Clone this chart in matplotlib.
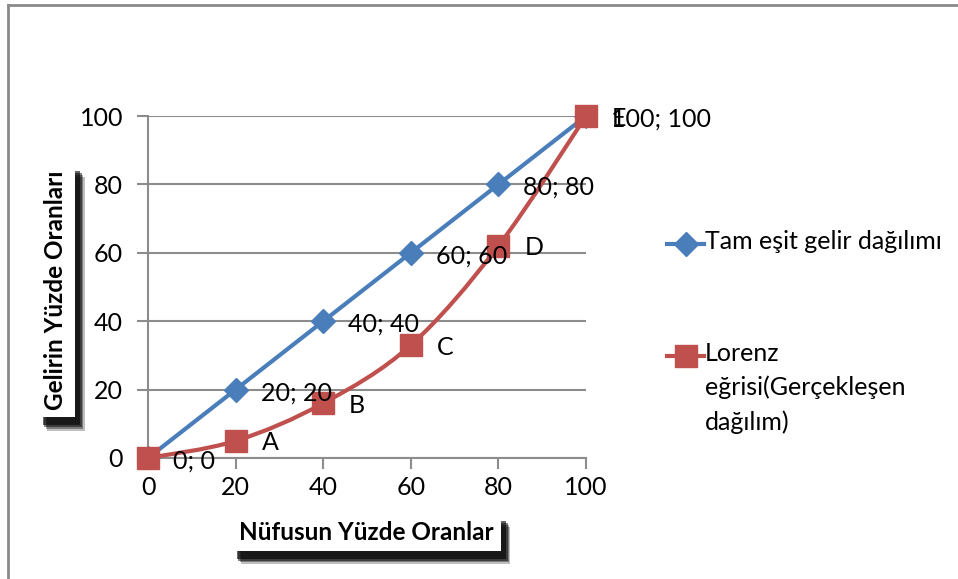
import matplotlib.pyplot as plt
import numpy as np
from matplotlib.lines import Line2D
from matplotlib.path import Path
from matplotlib.patches import PathPatch
import matplotlib.patheffects as pe

plt.rcParams['font.family'] = ['Lato', 'DejaVu Sans']

x_pop = [0, 20, 40, 60, 80, 100]
y_equal = [0, 20, 40, 60, 80, 100]
y_lorenz = [0, 5, 16, 33, 62, 100]
lorenz_letters = ['', 'A', 'B', 'C', 'D', 'E']
x_ticks = [0, 20, 40, 60, 80, 100]
y_ticks = [0, 20, 40, 60, 80, 100]

blue = '#4A7EBB'
red = '#C0504D'
grid_gray = '#8C8C8C'
fs = 18

fig = plt.figure(figsize=(9.58, 5.79), dpi=100)
ax = fig.add_axes([0.1545, 0.209, 0.4572, 0.5906])

# outer chart frame (top and left edges visible)
fig.add_artist(Line2D([8 / 958, 1], [1 - 5 / 579, 1 - 5 / 579], transform=fig.transFigure,
                      color='#8A8A8A', lw=2))
fig.add_artist(Line2D([8 / 958, 8 / 958], [0, 1 - 5 / 579], transform=fig.transFigure,
                      color='#8A8A8A', lw=2))

ax.set_xlim(0, 100)
ax.set_ylim(0, 100)
ax.set_xticks(x_ticks)
ax.set_yticks(y_ticks)
ax.tick_params(axis='both', direction='out', length=8, width=1.5, color=grid_gray,
               labelsize=fs)
ax.tick_params(axis='x', pad=5)
ax.tick_params(axis='y', pad=10)
for s in ['top', 'right']:
    ax.spines[s].set_visible(False)
for s in ['left', 'bottom']:
    ax.spines[s].set_color(grid_gray)
    ax.spines[s].set_linewidth(1.5)
ax.yaxis.grid(True, color=grid_gray, lw=1.5)
ax.set_axisbelow(True)

# equal distribution line
ax.plot(x_pop, y_equal, color=blue, lw=3, marker='D', markersize=12,
        markerfacecolor=blue, markeredgecolor=blue, zorder=3)

# smoothed Lorenz curve (Catmull-Rom style bezier like spreadsheet smoothing)
px = np.array(x_pop, dtype=float)
py = np.array(y_lorenz, dtype=float)
verts = [(px[0], py[0])]
codes = [Path.MOVETO]
n = len(px)
for i in range(n - 1):
    p0 = (px[max(i - 1, 0)], py[max(i - 1, 0)])
    p1 = (px[i], py[i])
    p2 = (px[i + 1], py[i + 1])
    p3 = (px[min(i + 2, n - 1)], py[min(i + 2, n - 1)])
    c1 = (p1[0] + (p2[0] - p0[0]) / 6, p1[1] + (p2[1] - p0[1]) / 6)
    c2 = (p2[0] - (p3[0] - p1[0]) / 6, p2[1] - (p3[1] - p1[1]) / 6)
    verts += [c1, c2, p2]
    codes += [Path.CURVE4] * 3
ax.add_patch(PathPatch(Path(verts, codes), facecolor='none', edgecolor=red, lw=3,
                       zorder=4, clip_on=False))
ax.plot(x_pop, y_lorenz, ls='none', marker='s', markersize=15.5,
        markerfacecolor=red, markeredgecolor=red, zorder=5, clip_on=False)

for xv, yv in zip(x_pop, y_equal):
    ax.annotate(f'{xv}; {yv}', (xv, yv), xytext=(25, -3), textcoords='offset pixels',
                ha='left', va='center', fontsize=fs, zorder=6)
for xv, yv, lab in zip(x_pop, y_lorenz, lorenz_letters):
    if lab:
        ax.annotate(lab, (xv, yv), xytext=(26, -2), textcoords='offset pixels',
                    ha='left', va='center', fontsize=fs, zorder=6)

# legend drawn by hand so the marker sits on the first text line
leg_x0, leg_x1 = 667 / 958, 704 / 958
for yy, col, mk, ms, label in [(1 - 244 / 579, blue, 'D', 12, 'Tam eşit gelir dağılımı'),
                               (1 - 356 / 579, red, 's', 15.5,
                                'Lorenz\neğrisi(Gerçekleşen\ndağılım)')]:
    fig.add_artist(Line2D([leg_x0, leg_x1], [yy, yy], transform=fig.transFigure,
                          color=col, lw=3))
    fig.add_artist(Line2D([(leg_x0 + leg_x1) / 2], [yy], transform=fig.transFigure,
                          color=col, marker=mk, markersize=ms, ls='none'))
    fig.text(leg_x1 + 0.001, yy + 0.024, label, ha='left', va='top', fontsize=fs,
             linespacing=1.55)

shadow = [pe.SimplePatchShadow(offset=(o, -1.4 * o), shadow_rgbFace='black', alpha=a)
          for o, a in [(7, 0.25), (6, 0.35), (5, 0.5), (4, 0.6)]] + [pe.Normal()]
ylab = fig.text(56 / 958, 1 - 290 / 579, 'Gelirin Yüzde Oranları', rotation=90,
                ha='center', va='center', fontsize=17.5, fontweight='bold',
                bbox=dict(boxstyle='square,pad=0.3', fc='white', ec='none'))
xlab = fig.text(366 / 958, 1 - 532 / 579, 'Nüfusun Yüzde Oranlar',
                ha='center', va='center', fontsize=17.5, fontweight='bold',
                bbox=dict(boxstyle='square,pad=0.3', fc='white', ec='none'))
fig.canvas.draw()
ylab.get_bbox_patch().set_path_effects(shadow)
xlab.get_bbox_patch().set_path_effects(shadow)

fig.savefig('out.png', dpi=100)
